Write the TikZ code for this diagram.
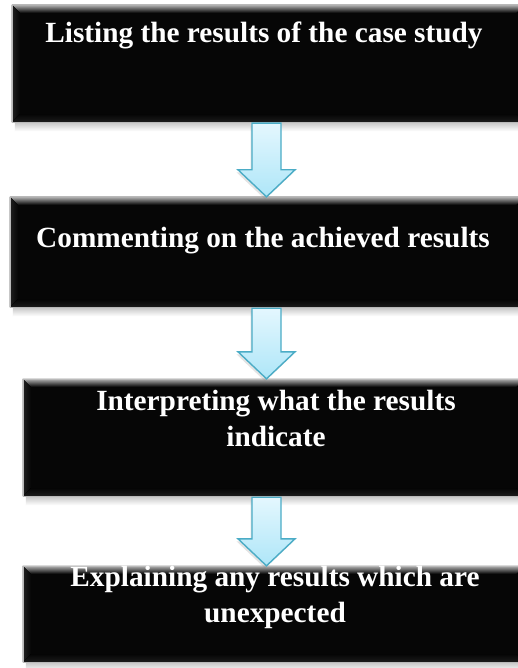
\documentclass[tikz,border=0pt]{standalone}
\usepackage{fontspec}
\setmainfont{Liberation Serif}
\usetikzlibrary{calc,shadows}

\definecolor{boxfill}{HTML}{060606}
\definecolor{arrowline}{HTML}{4BACC6}
\definecolor{arrowtop}{HTML}{E4F7FE}
\definecolor{arrowbot}{HTML}{AEE6F8}

\tikzset{
  stepbox/.style={rectangle, draw=gray!55, line width=0.6pt, fill=boxfill, inner sep=0pt},
  steptext/.style={text=white, font=\bfseries\fontsize{29.3}{36}\selectfont, align=center, inner sep=0pt},
  downarrow/.style={draw=arrowline, line width=1.4pt, top color=arrowtop, bottom color=arrowbot,
    line join=miter, drop shadow={opacity=0.22, shadow xshift=-1.5pt, shadow yshift=-2.5pt}},
  boxshade/.style={top color=gray!45, bottom color=white},
}

% soft shadow under a box, drawn before the box itself
\newcommand\boxshadow[1]{%
  \fill[boxshade] ($(#1.south west)+(3,0)$) rectangle ($(#1.south east)+(0,9)$);
}
% bevelled rim on top of a box
\newcommand\boxbevel[1]{%
  \fill[top color=gray!60, bottom color=boxfill]
    (#1.north west) -- (#1.north east) -- ($(#1.north east)+(-8,8)$) -- ($(#1.north west)+(8,8)$) -- cycle;
  \fill[left color=gray!25!black, right color=boxfill]
    (#1.north west) -- ($(#1.north west)+(8,8)$) -- ($(#1.south west)+(8,-8)$) -- (#1.south west) -- cycle;
  \fill[top color=boxfill, bottom color=gray!22!black]
    (#1.south west) -- ($(#1.south west)+(8,-8)$) -- ($(#1.south east)+(-8,-8)$) -- (#1.south east) -- cycle;
  \draw[gray!55, line width=0.6pt] (#1.north west) rectangle (#1.south east);
}
% block arrow from the bottom of one box to the top of the next
\newcommand\flowarrow[2]{%
  \path[downarrow] let \p1=(#1.south), \p2=(#2.north) in
    (252pt,{\y1-1pt}) -- (281pt,{\y1-1pt}) -- (281pt,{\y2+27pt}) -- (295pt,{\y2+27pt})
    -- (266.5pt,\y2) -- (238pt,{\y2+27pt}) -- (252pt,{\y2+27pt}) -- cycle;
}

\begin{document}
\begin{tikzpicture}[x=1pt, y=-1pt]
  \clip (0,0) rectangle (518,668);
  \fill[white] (0,0) rectangle (518,668);

  % box frames
  \coordinate (s1) at (268,63.5);
  \coordinate (s2) at (267,252);
  \coordinate (s3) at (273.5,437.5);
  \coordinate (s4) at (273.5,614);
  \path (s1) node[minimum width=512pt, minimum height=117pt] (b1) {};
  \path (s2) node[minimum width=514pt, minimum height=110pt] (b2) {};
  \path (s3) node[minimum width=501pt, minimum height=117pt] (b3) {};
  \path (s4) node[minimum width=501pt, minimum height=96pt] (b4) {};

  \boxshadow{b1}\boxshadow{b2}\boxshadow{b3}\boxshadow{b4}

  \node[stepbox, minimum width=512pt, minimum height=117pt] at (s1) {};
  \node[stepbox, minimum width=514pt, minimum height=110pt] at (s2) {};
  \node[stepbox, minimum width=501pt, minimum height=117pt] at (s3) {};
  \node[stepbox, minimum width=501pt, minimum height=96pt] at (s4) {};

  \boxbevel{b1}\boxbevel{b2}\boxbevel{b3}\boxbevel{b4}

  % captions
  \node[steptext, anchor=base] (t1) at (264,43) {Listing the results of the case study};
  \node[steptext, anchor=base] (t2) at (263,247) {Commenting on the achieved results};
  \node[steptext] (t3) at (276,418) {Interpreting what the results\\indicate};
  \node[steptext] (t4) at (275,597) {Explaining any results which are\\unexpected};

  % connectors
  \flowarrow{b1}{b2}
  \flowarrow{b2}{b3}
  \flowarrow{b3}{b4}
\end{tikzpicture}
\end{document}
